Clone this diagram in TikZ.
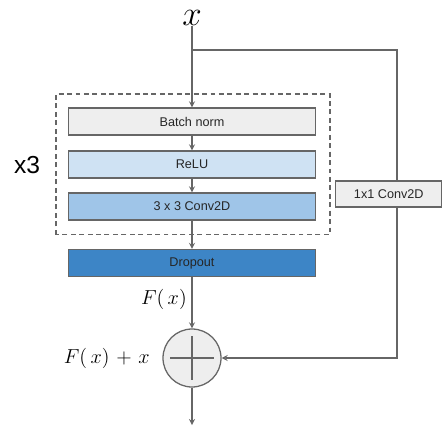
\documentclass[tikz,border=0pt]{standalone}
\usepackage{fontspec}
\newfontfamily\arialfont{Liberation Sans}
\usepackage{xcolor}
\definecolor{lineGray}{HTML}{666666}
\definecolor{bnFill}{HTML}{EEEEEE}
\definecolor{reluFill}{HTML}{CFE2F3}
\definecolor{convFill}{HTML}{9FC5E8}
\definecolor{dropFill}{HTML}{3D85C6}
\usepackage{tikz}
\usetikzlibrary{calc}

\tikzset{
  layerbox/.style={draw=lineGray, line width=0.9pt, minimum width=6.175cm,
    minimum height=0.675cm, inner sep=0pt, font=\arialfont\fontsize{9}{10}\selectfont,
    text=black!85},
  flow/.style={->, draw=lineGray, line width=0.9pt},
  wire/.style={draw=lineGray, line width=0.9pt}
}

\begin{document}
\begin{tikzpicture}[>=stealth]
  \useasboundingbox (0,0) rectangle (11.175,10.725);
  % input
  \node[inner sep=0pt, anchor=south] (xin) at (4.8,10.08) {\fontsize{35}{35}\selectfont$x$};
  % repeated block
  \draw[wire, dashed, dash pattern=on 3.5pt off 2.5pt] (1.4,4.857) rectangle (8.25,8.375);
  \node[font=\arialfont\fontsize{17.5}{20}\selectfont] (rep) at (0.675,6.6) {x3};
  \node[layerbox, fill=bnFill] (bn) at (4.8,7.6875) {Batch norm};
  \node[layerbox, fill=reluFill] (relu) at (4.8,6.6125) {ReLU};
  \node[layerbox, fill=convFill] (conv) at (4.8,5.5625) {3 x 3 Conv2D};
  \node[layerbox, fill=dropFill] (drop) at (4.8,4.15) {Dropout};
  % skip branch
  \coordinate (split) at (4.8,9.475);
  \coordinate (corner) at (9.925,9.475);
  \node[layerbox, fill=bnFill, minimum width=2.65cm, minimum height=0.65cm] (skip) at (9.72,5.875) {1x1 Conv2D};
  % sum
  \node[circle, draw=lineGray, line width=0.9pt, fill=bnFill, minimum size=1.45cm, inner sep=0pt] (sum) at (4.8,1.775) {};
  \draw[wire] ($(sum.center)+(-0.54,0)$) -- ($(sum.center)+(0.54,0)$);
  \draw[wire] ($(sum.center)+(0,-0.54)$) -- ($(sum.center)+(0,0.54)$);
  \coordinate (out) at (4.8,0.1);
  % labels
  \node[anchor=east, inner sep=0pt] (fx) at (4.675,3.25) {\fontsize{15}{17}\selectfont$F(\,x)$};
  \node[anchor=east, inner sep=0pt] (fxx) at (3.75,1.775) {\fontsize{15}{17}\selectfont$F(\,x)\mkern2mu+\mkern2mu x$};
  % arrows
  \draw[flow] (xin.south) -- (bn.north);
  \draw[flow] (bn) -- (relu);
  \draw[flow] (relu) -- (conv);
  \draw[flow] (conv) -- (drop);
  \draw[flow] (drop) -- (sum);
  \draw[flow] (sum) -- (out);
  \draw[wire] (split) -- (corner) -- (corner |- skip.north);
  \draw[flow] (corner |- skip.south) -- (corner |- sum) -- (sum.east);
\end{tikzpicture}
\end{document}
